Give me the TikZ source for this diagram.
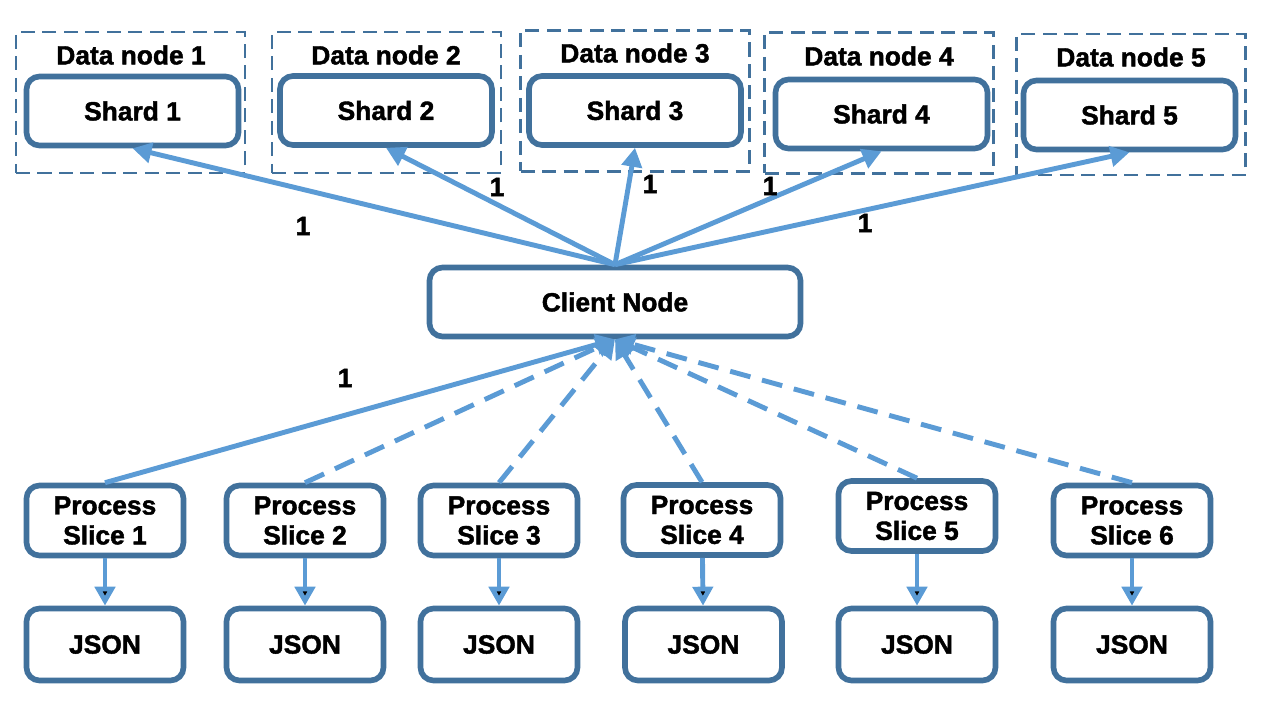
\documentclass[tikz,border=0pt]{standalone}
\usepackage{fontspec}
\setmainfont{Liberation Sans}[BoldFeatures={FakeBold=1.6}]
\usetikzlibrary{arrows.meta}

\definecolor{edgeblue}{HTML}{41719C}
\definecolor{linkblue}{HTML}{5B9BD5}

\begin{document}
\begin{tikzpicture}[scale=1,
    font=\fontsize{15}{17}\selectfont\bfseries,
    box/.style={draw=edgeblue, line width=3.2pt, rounded corners=0.26cm,
                fill=white, align=center, inner sep=0pt},
    holder/.style={draw=edgeblue, line width=1.5pt,
                   dash pattern=on 0.28cm off 0.15cm,
                   minimum width=4.58cm, minimum height=2.82cm},
    link/.style={draw=linkblue, line width=2.8pt,
                 -{Triangle[length=0.38cm, width=0.40cm]}},
    later/.style={link, dash pattern=on 0.42cm off 0.24cm},
    ]
    \useasboundingbox (0,0) rectangle (25.6,14.4);

    % data nodes
    \node[holder] (DN1) at (2.61, 12.35) {};
    \node[holder] (DN2) at (7.73, 12.35) {};
    \node[holder] (DN3) at (12.70, 12.38) {};
    \node[holder] (DN4) at (17.58, 12.34) {};
    \node[holder] (DN5) at (22.62, 12.31) {};

    \node (t1) at (2.62, 13.30) {Data node 1};
    \node (t2) at (7.72, 13.30) {Data node 2};
    \node (t3) at (12.70, 13.34) {Data node 3};
    \node (t4) at (17.58, 13.28) {Data node 4};
    \node (t5) at (22.62, 13.26) {Data node 5};

    \node[box, minimum width=4.24cm, minimum height=1.38cm]
        (S1) at (2.65, 12.18) {Shard 1};
    \node[box, minimum width=4.24cm, minimum height=1.38cm]
        (S2) at (7.72, 12.19) {Shard 2};
    \node[box, minimum width=4.24cm, minimum height=1.38cm]
        (S3) at (12.70, 12.19) {Shard 3};
    \node[box, minimum width=4.24cm, minimum height=1.38cm]
        (S4) at (17.63, 12.12) {Shard 4};
    \node[box, minimum width=4.24cm, minimum height=1.38cm]
        (S5) at (22.59, 12.10) {Shard 5};

    % client
    \node[box, minimum width=7.42cm, minimum height=1.38cm]
        (client) at (12.30, 8.36) {Client Node};

    % slices and their output
    \node[box, minimum width=3.14cm, minimum height=1.40cm]
        (P1) at (2.10, 3.99) {Process\\Slice 1};
    \node[box, minimum width=3.14cm, minimum height=1.40cm]
        (P2) at (6.10, 3.99) {Process\\Slice 2};
    \node[box, minimum width=3.14cm, minimum height=1.40cm]
        (P3) at (9.98, 3.99) {Process\\Slice 3};
    \node[box, minimum width=3.14cm, minimum height=1.40cm]
        (P4) at (14.04, 4.00) {Process\\Slice 4};
    \node[box, minimum width=3.14cm, minimum height=1.40cm]
        (P5) at (18.34, 4.08) {Process\\Slice 5};
    \node[box, minimum width=3.14cm, minimum height=1.40cm]
        (P6) at (22.64, 3.99) {Process\\Slice 6};

    \node[box, minimum width=3.14cm, minimum height=1.44cm]
        (J1) at (2.10, 1.51) {JSON};
    \node[box, minimum width=3.14cm, minimum height=1.44cm]
        (J2) at (6.10, 1.51) {JSON};
    \node[box, minimum width=3.14cm, minimum height=1.44cm]
        (J3) at (9.98, 1.51) {JSON};
    \node[box, minimum width=3.14cm, minimum height=1.44cm]
        (J4) at (14.07, 1.51) {JSON};
    \node[box, minimum width=3.14cm, minimum height=1.44cm]
        (J5) at (18.34, 1.51) {JSON};
    \node[box, minimum width=3.14cm, minimum height=1.44cm]
        (J6) at (22.64, 1.51) {JSON};

    % client to shards
    \path[link] (client.north) -- (S1.south);
    \path[link] (client.north) -- (S2.south);
    \path[link] (client.north) -- (S3.south);
    \path[link] (client.north) -- (S4.south);
    \path[link] (client.north) -- (S5.south);

    \node (n1) at (6.06, 9.88) {1};
    \node (n2) at (9.94, 10.66) {1};
    \node (n3) at (13.00, 10.72) {1};
    \node (n4) at (15.40, 10.68) {1};
    \node (n5) at (17.30, 9.94) {1};

    % slices to client
    \path[link] (P1.north) -- (client.south);
    \path[later] (P2.north) -- (client.south);
    \path[later] (P3.north) -- (client.south);
    \path[later] (P4.north) -- (client.south);
    \path[later] (P5.north) -- (client.south);
    \path[later] (P6.north) -- (client.south);

    \node (n6) at (6.90, 6.84) {1};

    \path[link] (P1) edge (J1);
    \path[link] (P2) edge (J2);
    \path[link] (P3) edge (J3);
    \path[link] (P4) edge (J4);
    \path[link] (P5) edge (J5);
    \path[link] (P6) edge (J6);
  \end{tikzpicture}
\end{document}
